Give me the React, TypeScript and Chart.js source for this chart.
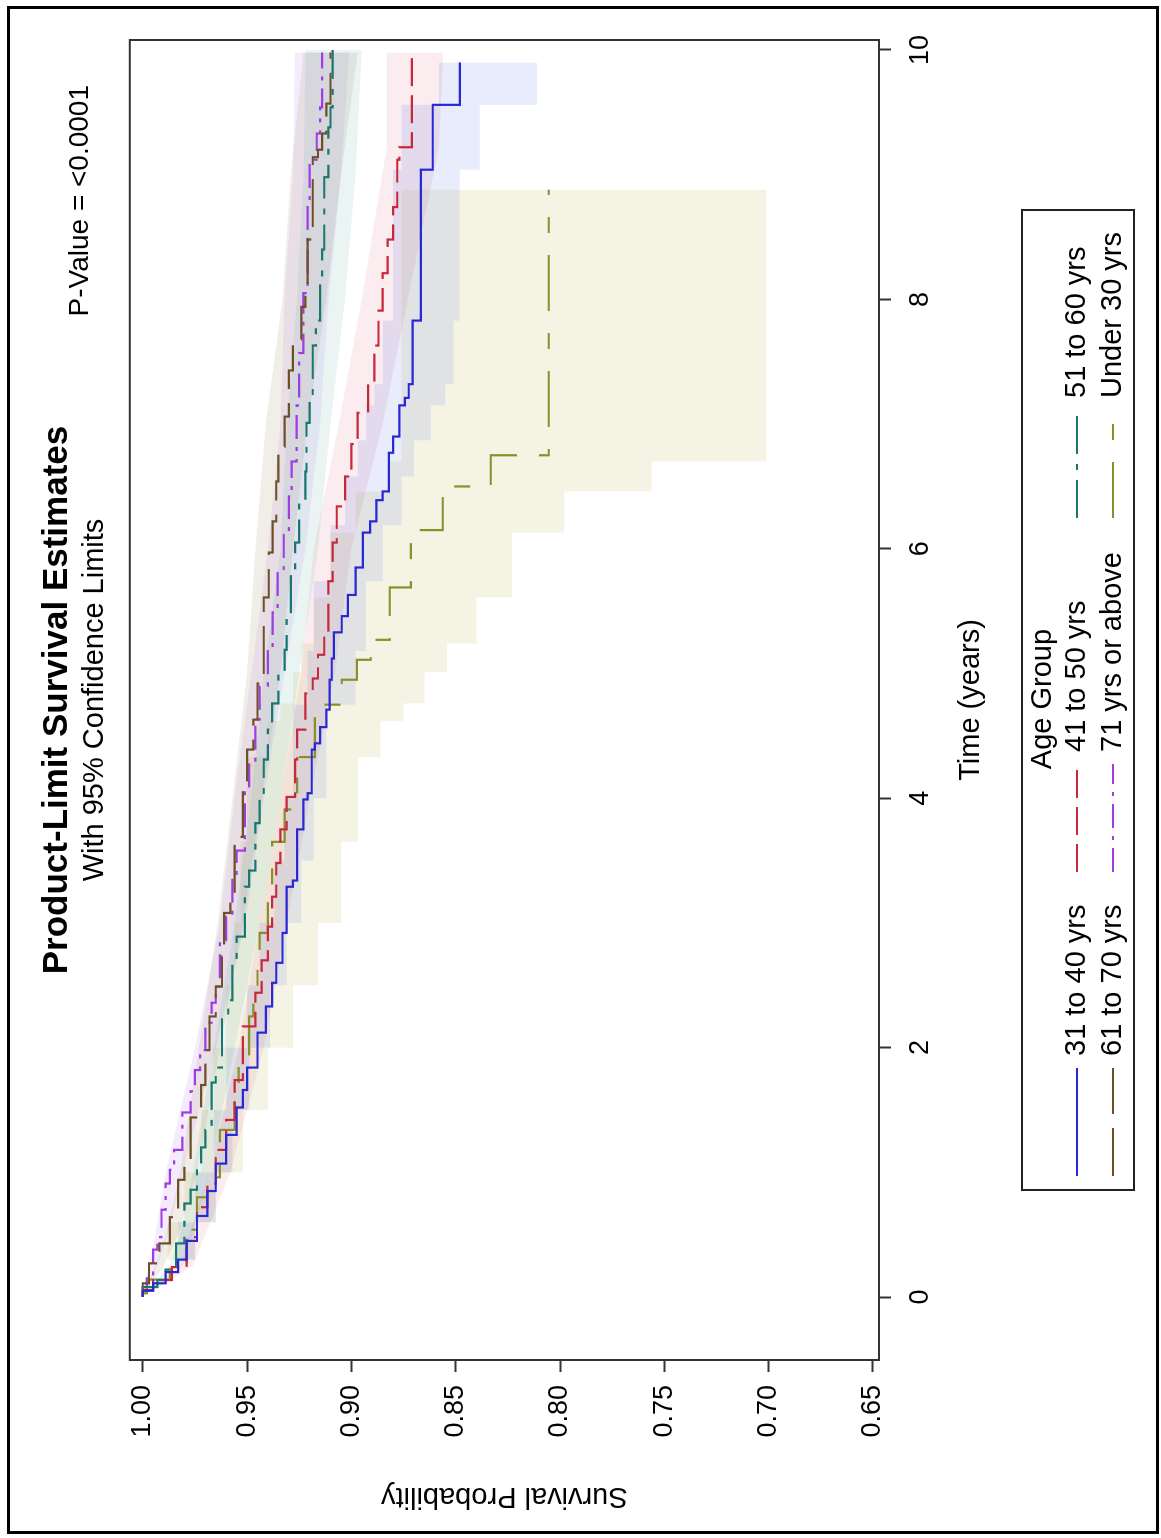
import React, { useEffect, useRef } from "react";
import { Chart, registerables } from "chart.js";

Chart.register(...registerables);

const FONT = '"Liberation Sans", Arial, Helvetica, sans-serif';

const titleText = "Product-Limit Survival Estimates";
const subtitleText = "With 95% Confidence Limits";
const pValueText = "P-Value = <0.0001";
const xAxisTitle = "Time (years)";
const yAxisTitle = "Survival Probability";
const legendTitle = "Age Group";

const xTicks = [0, 2, 4, 6, 8, 10];
const yTicks = [0.65, 0.7, 0.75, 0.8, 0.85, 0.9, 0.95, 1.0];

const groups = ["31 to 40 yrs", "41 to 50 yrs", "51 to 60 yrs", "61 to 70 yrs", "71 yrs or above", "Under 30 yrs"];

// 31 to 40 yrs
const time31 = [0, 0.05, 0.11, 0.2, 0.3, 0.45, 0.65, 0.85, 1.07, 1.3, 1.52, 1.66, 1.84, 2.12, 2.33, 2.52, 2.68, 2.92, 3.29, 3.34, 3.75, 3.99, 4.04, 4.39, 4.44, 4.57, 4.71, 4.95, 5.12, 5.33, 5.46, 5.63, 5.85, 6.13, 6.22, 6.39, 6.46, 6.77, 6.9, 7.15, 7.21, 7.32, 7.83, 9.04, 9.56, 9.9];
const surv31 = [1, 0.995, 0.989, 0.983, 0.979, 0.974, 0.969, 0.965, 0.96, 0.955, 0.952, 0.95, 0.945, 0.941, 0.938, 0.936, 0.933, 0.931, 0.928, 0.926, 0.923, 0.921, 0.919, 0.9175, 0.915, 0.912, 0.9104, 0.9094, 0.9084, 0.9046, 0.9017, 0.898, 0.8945, 0.891, 0.888, 0.885, 0.882, 0.88, 0.877, 0.8744, 0.8725, 0.8706, 0.8667, 0.861, 0.848, 0.848];
const bandTime31 = [0, 0.3, 0.6, 1, 1.5, 2, 2.5, 3, 3.5, 4, 4.75, 5.18, 5.74, 6.19, 6.58, 6.87, 7.15, 7.32, 7.83, 9.04, 9.56, 9.9];
const upper31 = [1, 0.983, 0.975, 0.966, 0.96, 0.95, 0.944, 0.937, 0.932, 0.928, 0.921, 0.918, 0.91, 0.903, 0.897, 0.893, 0.889, 0.885, 0.88, 0.876, 0.858, 0.858];
const lower31 = [1, 0.975, 0.965, 0.957, 0.949, 0.939, 0.931, 0.924, 0.918, 0.912, 0.898, 0.893, 0.885, 0.876, 0.87, 0.862, 0.855, 0.851, 0.848, 0.8385, 0.811, 0.811];

// 41 to 50 yrs
const time41 = [0, 0.056, 0.136, 0.24, 0.48, 0.72, 0.91, 1.18, 1.42, 1.74, 2.17, 2.44, 2.7, 2.97, 3.21, 3.48, 3.75, 4.01, 4.31, 4.55, 4.84, 4.96, 5.15, 5.32, 5.74, 6.05, 6.34, 6.58, 6.84, 7.09, 7.35, 7.63, 7.91, 8.21, 8.48, 8.74, 9.12, 9.22, 9.98];
const surv41 = [1, 0.995, 0.986, 0.979, 0.974, 0.969, 0.965, 0.96, 0.956, 0.952, 0.946, 0.943, 0.94, 0.938, 0.936, 0.934, 0.931, 0.927, 0.926, 0.922, 0.9185, 0.916, 0.913, 0.911, 0.909, 0.907, 0.903, 0.9, 0.897, 0.892, 0.889, 0.887, 0.885, 0.8826, 0.88, 0.878, 0.877, 0.871, 0.871];
const bandTime41 = [0, 0.25, 0.5, 1, 2, 3, 4, 5, 6, 7, 8, 9.22, 9.98];
const upper41 = [1, 0.982, 0.978, 0.968, 0.954, 0.944, 0.934, 0.924, 0.918, 0.906, 0.895, 0.883, 0.883];
const lower41 = [1, 0.976, 0.97, 0.958, 0.942, 0.931, 0.92, 0.908, 0.9, 0.885, 0.873, 0.858, 0.856];

// 51 to 60 yrs
const time51 = [0, 0.08, 0.136, 0.22, 0.43, 0.75, 0.86, 1.03, 1.2, 1.34, 1.72, 1.84, 2.25, 2.38, 2.7, 2.89, 3.29, 3.42, 3.8, 3.99, 4.31, 4.55, 4.76, 5.01, 5.19, 5.46, 5.8, 6.05, 6.39, 6.62, 7.01, 7.21, 7.63, 7.83, 8.16, 8.4, 8.98, 9.38, 9.54, 10.0];
const surv51 = [1, 0.993, 0.989, 0.984, 0.98, 0.977, 0.974, 0.972, 0.97, 0.967, 0.965, 0.962, 0.959, 0.957, 0.955, 0.951, 0.949, 0.946, 0.944, 0.942, 0.94, 0.938, 0.935, 0.932, 0.931, 0.929, 0.927, 0.925, 0.922, 0.9215, 0.92, 0.9185, 0.917, 0.915, 0.914, 0.913, 0.911, 0.91, 0.909, 0.909];
const bandTime51 = [0, 0.25, 0.5, 1, 2, 3, 4, 5, 6, 7, 8, 9, 10];
const upper51 = [1, 0.987, 0.982, 0.976, 0.966, 0.956, 0.948, 0.942, 0.934, 0.931, 0.926, 0.923, 0.922];
const lower51 = [1, 0.981, 0.976, 0.968, 0.956, 0.944, 0.934, 0.925, 0.916, 0.91, 0.903, 0.898, 0.895];

// 61 to 70 yrs
const time61 = [0, 0.11, 0.27, 0.43, 0.64, 0.94, 1.07, 1.44, 1.7, 1.98, 2.25, 2.49, 2.73, 3.08, 3.18, 3.64, 3.69, 4.12, 4.39, 4.63, 4.92, 5.61, 5.97, 6.22, 6.54, 6.82, 7.06, 7.43, 7.68, 7.94, 8.02, 8.48, 9.14, 9.2, 9.33, 9.57, 9.98];
const surv61 = [1, 0.997, 0.992, 0.987, 0.983, 0.98, 0.977, 0.972, 0.97, 0.968, 0.965, 0.962, 0.961, 0.958, 0.956, 0.954, 0.952, 0.95, 0.947, 0.945, 0.942, 0.9396, 0.9377, 0.936, 0.935, 0.932, 0.93, 0.928, 0.924, 0.922, 0.921, 0.9185, 0.916, 0.914, 0.912, 0.91, 0.91];
const bandTime61 = [0, 0.25, 0.5, 1, 2, 3, 4, 5, 6, 7, 8, 9, 9.98];
const upper61 = [1, 0.994, 0.989, 0.982, 0.973, 0.964, 0.957, 0.95, 0.946, 0.941, 0.933, 0.929, 0.923];
const lower61 = [1, 0.99, 0.983, 0.974, 0.963, 0.952, 0.943, 0.934, 0.928, 0.921, 0.912, 0.905, 0.897];

// 71 yrs or above
const time71 = [0, 0.08, 0.16, 0.38, 0.48, 0.7, 0.91, 1.02, 1.18, 1.48, 1.65, 1.82, 1.98, 2.2, 2.36, 2.49, 2.86, 3.05, 3.37, 3.58, 4.07, 4.28, 4.63, 4.9, 5.18, 5.49, 5.82, 6.11, 6.42, 6.7, 7.15, 7.57, 8.05, 8.74, 9.12, 9.33, 9.54, 9.98];
const surv71 = [1, 0.998, 0.995, 0.993, 0.991, 0.989, 0.987, 0.985, 0.981, 0.977, 0.975, 0.9725, 0.97, 0.967, 0.965, 0.963, 0.96, 0.957, 0.955, 0.951, 0.949, 0.946, 0.944, 0.94, 0.9377, 0.9353, 0.9324, 0.93, 0.9286, 0.9262, 0.925, 0.923, 0.921, 0.92, 0.9166, 0.915, 0.914, 0.914];
const bandTime71 = [0, 0.25, 0.5, 1, 2, 3, 4, 5, 6, 7, 8, 9, 9.98];
const upper71 = [1, 0.997, 0.994, 0.989, 0.975, 0.963, 0.956, 0.948, 0.94, 0.934, 0.932, 0.928, 0.927];
const lower71 = [1, 0.993, 0.988, 0.981, 0.965, 0.951, 0.942, 0.932, 0.922, 0.915, 0.911, 0.905, 0.901];

// Under 30 yrs
const time30 = [0, 0.03, 0.14, 0.24, 0.54, 0.8, 0.96, 1.34, 1.66, 1.92, 2.25, 2.49, 2.73, 2.92, 3.18, 3.65, 3.91, 4.33, 4.75, 4.95, 5.11, 5.27, 5.69, 6.15, 6.5, 6.75, 8.88];
const surv30 = [1, 0.998, 0.987, 0.979, 0.974, 0.969, 0.963, 0.956, 0.954, 0.949, 0.947, 0.945, 0.944, 0.94, 0.938, 0.932, 0.926, 0.9175, 0.9046, 0.8974, 0.8907, 0.8816, 0.8715, 0.8562, 0.8332, 0.8054, 0.8054];
const bandTime30 = [0, 0.3, 0.6, 1, 1.5, 2, 2.5, 3, 3.65, 4.33, 4.62, 4.76, 5.01, 5.24, 5.61, 6.13, 6.46, 6.7, 8.88];
const upper30 = [1, 0.988, 0.98, 0.972, 0.966, 0.96, 0.956, 0.953, 0.95, 0.94, 0.934, 0.928, 0.924, 0.918, 0.91, 0.898, 0.882, 0.876, 0.876];
const lower30 = [1, 0.975, 0.965, 0.952, 0.94, 0.928, 0.916, 0.905, 0.897, 0.886, 0.875, 0.865, 0.854, 0.84, 0.823, 0.798, 0.756, 0.701, 0.701];

const series = [
  { label: groups[0], time: time31, surv: surv31, bandTime: bandTime31, upper: upper31, lower: lower31, bandStepped: true },
  { label: groups[1], time: time41, surv: surv41, bandTime: bandTime41, upper: upper41, lower: lower41, bandStepped: false },
  { label: groups[2], time: time51, surv: surv51, bandTime: bandTime51, upper: upper51, lower: lower51, bandStepped: false },
  { label: groups[3], time: time61, surv: surv61, bandTime: bandTime61, upper: upper61, lower: lower61, bandStepped: false },
  { label: groups[4], time: time71, surv: surv71, bandTime: bandTime71, upper: upper71, lower: lower71, bandStepped: false },
  { label: groups[5], time: time30, surv: surv30, bandTime: bandTime30, upper: upper30, lower: lower30, bandStepped: true },
];

const styles = [
  { color: "rgb(40,40,215)", dash: [] as number[], band: "rgba(100,130,230,0.15)" },
  { color: "rgb(200,40,60)", dash: [28, 9], band: "rgba(220,110,130,0.13)" },
  { color: "rgb(25,120,110)", dash: [38, 10, 6, 10], band: "rgba(90,170,160,0.13)" },
  { color: "rgb(110,80,40)", dash: [48, 14], band: "rgba(150,120,80,0.13)" },
  { color: "rgb(160,60,230)", dash: [24, 8, 4, 8], band: "rgba(170,110,230,0.13)" },
  { color: "rgb(135,145,40)", dash: [56, 22, 16, 22], band: "rgba(200,190,110,0.19)" },
];

const toXY = (ts: number[], vs: number[]) => ts.map((t, i) => ({ x: t, y: vs[i] }));

const framePlugin = {
  id: "sasFrame",
  afterDraw(chart: any) {
    const { ctx, chartArea: a } = chart;
    ctx.save();
    ctx.setLineDash([]);
    ctx.strokeStyle = "#333";
    ctx.lineWidth = 2;
    ctx.strokeRect(a.left, a.top, a.right - a.left, a.bottom - a.top);
    ctx.strokeStyle = "#000";
    ctx.lineWidth = 3;
    ctx.strokeRect(5.5, 8.5, 1525, 1149);
    ctx.restore();
  },
};

const pValuePlugin = {
  id: "pValue",
  afterDraw(chart: any) {
    const { ctx } = chart;
    ctx.save();
    ctx.fillStyle = "#000";
    ctx.font = `28px ${FONT}`;
    ctx.textAlign = "right";
    ctx.textBaseline = "middle";
    ctx.fillText(pValueText, 1453, 80);
    ctx.restore();
  },
};

const legendPlugin = {
  id: "sasLegend",
  afterDraw(chart: any) {
    const { ctx } = chart;
    ctx.save();
    ctx.setLineDash([]);
    ctx.strokeStyle = "#222";
    ctx.lineWidth = 2;
    ctx.strokeRect(348, 1022, 980, 112);
    ctx.fillStyle = "#000";
    ctx.font = `29px ${FONT}`;
    ctx.textAlign = "center";
    ctx.textBaseline = "middle";
    ctx.fillText(legendTitle, 839, 1043);
    const cols = [362, 666, 1020];
    const rows = [1077, 1113];
    series.forEach((s, i) => {
      const x = cols[i % 3];
      const y = rows[Math.floor(i / 3)];
      ctx.strokeStyle = styles[i].color;
      ctx.lineWidth = 2;
      ctx.setLineDash(styles[i].dash);
      ctx.beginPath();
      ctx.moveTo(x, y);
      ctx.lineTo(x + 108, y);
      ctx.stroke();
      ctx.setLineDash([]);
      ctx.textAlign = "left";
      ctx.fillText(s.label, x + 120, y);
    });
    ctx.restore();
  },
};

export default function App() {
  const ref = useRef<HTMLCanvasElement>(null);

  useEffect(() => {
    const canvas = ref.current;
    if (!canvas) return;
    const datasets: any[] = [];
    series.forEach((s, i) => {
      const step = s.bandStepped ? "before" : false;
      datasets.push({
        label: s.label + " upper",
        data: toXY(s.bandTime, s.upper),
        borderColor: "transparent",
        borderWidth: 0,
        pointRadius: 0,
        fill: false,
        stepped: step,
        order: 10,
      });
      datasets.push({
        label: s.label + " lower",
        data: toXY(s.bandTime, s.lower),
        borderColor: "transparent",
        borderWidth: 0,
        pointRadius: 0,
        fill: "-1",
        backgroundColor: styles[i].band,
        stepped: step,
        order: 10,
      });
    });
    series.forEach((s, i) => {
      datasets.push({
        label: s.label,
        data: toXY(s.time, s.surv),
        borderColor: styles[i].color,
        borderWidth: 2.2,
        borderDash: styles[i].dash,
        pointRadius: 0,
        fill: false,
        stepped: "before",
        order: 0,
      });
    });

    const tickFont = { family: FONT, size: 27 };
    const chart = new Chart(canvas, {
      type: "line",
      data: { datasets },
      plugins: [framePlugin, pValuePlugin, legendPlugin],
      options: {
        responsive: false,
        animation: false,
        devicePixelRatio: 1,
        events: [],
        layout: { padding: { top: 10, left: 10, right: 40, bottom: 173 } },
        plugins: {
          legend: { display: false },
          tooltip: { enabled: false },
          title: {
            display: true,
            text: titleText,
            fullSize: false,
            color: "#000",
            font: { family: FONT, size: 35, weight: "bold" },
            padding: { top: 26, bottom: 0 },
          },
          subtitle: {
            display: true,
            text: subtitleText,
            fullSize: false,
            color: "#000",
            font: { family: FONT, size: 29 },
            padding: { top: 0, bottom: 17 },
          },
        },
        scales: {
          x: {
            type: "linear",
            min: -0.505,
            max: 10.08,
            afterBuildTicks: (s: any) => {
              s.ticks = xTicks.map((v) => ({ value: v }));
            },
            afterFit: (s: any) => {
              s.height = 110;
            },
            ticks: { font: tickFont, color: "#000", padding: 13, callback: (v: any) => String(v) },
            grid: { display: true, drawOnChartArea: false, drawTicks: true, tickLength: 12, tickColor: "#333", tickWidth: 2 },
            border: { display: false },
            title: { display: true, text: xAxisTitle, color: "#000", font: { family: FONT, size: 29 }, padding: { top: 0, bottom: 1 } },
          },
          y: {
            type: "linear",
            min: 0.6471,
            max: 1.0062,
            afterBuildTicks: (s: any) => {
              s.ticks = yTicks.map((v) => ({ value: v }));
            },
            afterFit: (s: any) => {
              s.width = 168;
            },
            ticks: { font: tickFont, color: "#000", padding: 13, callback: (v: any) => Number(v).toFixed(2) },
            grid: { display: true, drawOnChartArea: false, drawTicks: true, tickLength: 12, tickColor: "#333", tickWidth: 2 },
            border: { display: false },
            title: { display: true, text: yAxisTitle, color: "#000", font: { family: FONT, size: 29 }, padding: { top: 15, bottom: 0 } },
          },
        },
      } as any,
    });
    return () => chart.destroy();
  }, []);

  return (
    <div style={{ position: "absolute", left: 0, top: 0, width: 1161, height: 1538, overflow: "hidden", background: "#fff" }}>
      <div
        style={{
          position: "absolute",
          left: -188,
          top: 188,
          width: 1538,
          height: 1162,
          transform: "rotate(-90deg)",
          transformOrigin: "50% 50%",
          background: "#fff",
        }}
      >
        <canvas ref={ref} width={1538} height={1162} style={{ display: "block", width: 1538, height: 1162 }} />
      </div>
    </div>
  );
}
